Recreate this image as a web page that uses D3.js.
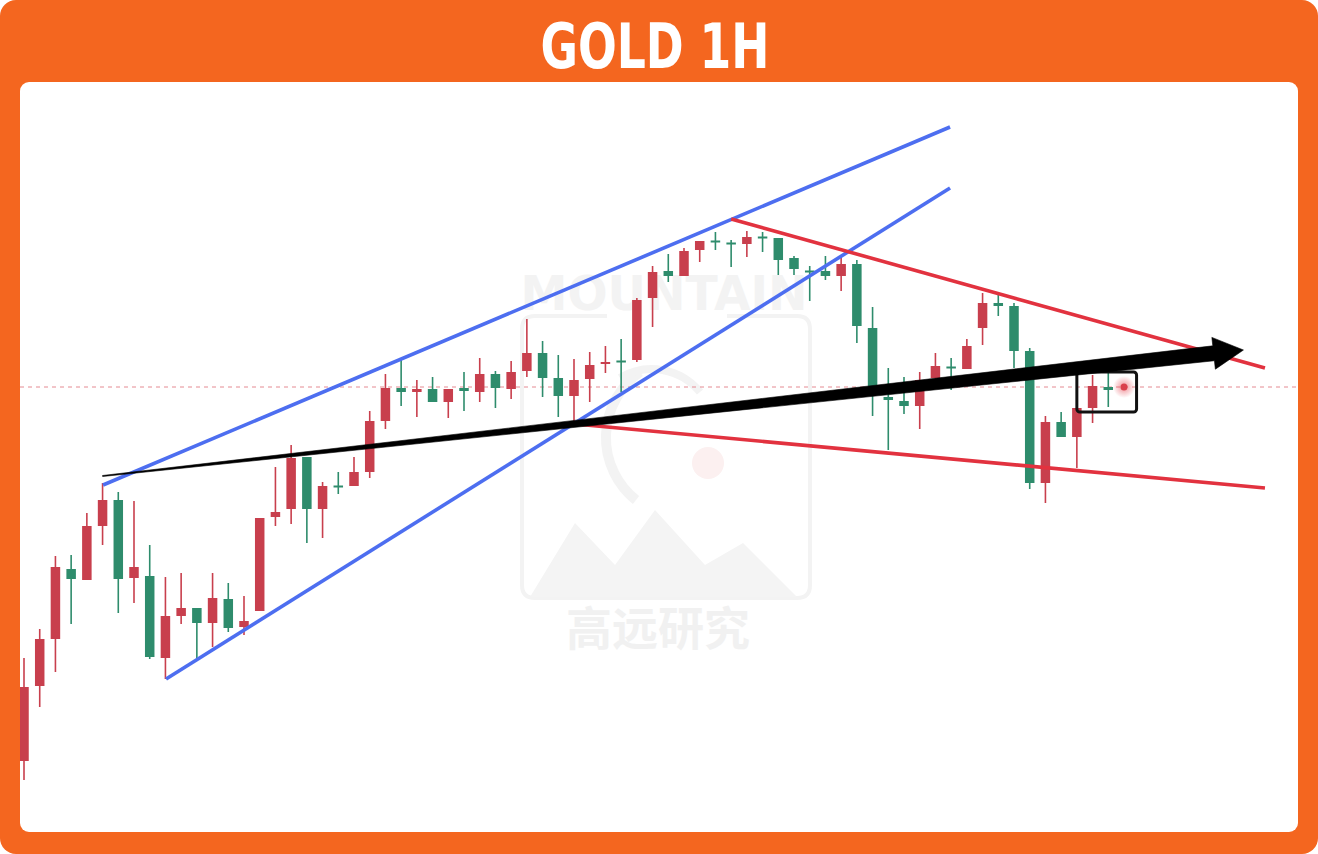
<!DOCTYPE html>
<html><head><meta charset="utf-8">
<script src="https://cdn.jsdelivr.net/npm/d3@7/dist/d3.min.js"></script>
<style>html,body{margin:0;padding:0;background:#fff;}svg{display:block;}</style>
</head><body>
<svg id="c" width="1318" height="854"></svg>
<script>
// ---------- data (1H candles, price) ----------
const title = "GOLD 1H";
const opens  = [3303.9,3311.4,3316.1,3323.1,3322.0,3327.4,3330.0,3322.2,3322.4,3314.2,3318.4,3319.2,3317.7,3320.1,3317.3,3318.9,3328.3,3329.1,3334.3,3329.1,3331.4,3331.4,3332.8,3337.9,3341.2,3340.8,3341.1,3339.8,3341.2,3340.8,3342.6,3341.1,3342.9,3344.7,3342.2,3340.4,3342.1,3343.6,3343.9,3344.0,3350.2,3352.9,3352.4,3355.0,3355.9,3355.7,3355.6,3356.3,3356.2,3354.2,3352.9,3352.9,3352.4,3353.6,3347.2,3340.3,3339.9,3339.4,3342.2,3343.3,3343.1,3347.2,3349.7,3349.4,3344.9,3331.7,3337.8,3336.3,3339.2,3341.3];
const highs  = [3314.2,3317.1,3324.4,3324.5,3328.7,3331.7,3330.8,3329.9,3325.5,3322.3,3322.7,3319.2,3322.7,3321.7,3320.4,3328.2,3333.3,3335.5,3334.3,3331.8,3332.8,3334.3,3338.9,3342.6,3344.0,3342.0,3342.3,3341.1,3342.8,3344.2,3342.9,3343.9,3348.1,3345.9,3344.5,3344.1,3344.8,3345.4,3346.1,3350.2,3353.4,3354.6,3355.2,3355.9,3356.8,3356.0,3356.9,3356.8,3356.2,3354.4,3353.4,3354.4,3354.4,3354.0,3349.3,3343.2,3342.3,3342.8,3344.7,3344.2,3346.1,3350.7,3350.6,3349.7,3345.2,3338.4,3338.8,3339.2,3342.5,3342.7];
const lows   = [3302.0,3309.3,3312.8,3317.6,3322.0,3325.5,3318.7,3319.7,3314.1,3312.1,3317.6,3314.2,3315.3,3316.8,3316.5,3318.9,3327.4,3327.6,3325.7,3326.2,3330.6,3331.4,3332.2,3337.1,3339.4,3338.3,3339.8,3338.2,3338.9,3339.8,3339.2,3340.1,3342.3,3340.3,3338.3,3337.8,3339.8,3342.7,3340.8,3343.8,3347.3,3351.8,3352.4,3353.8,3355.0,3353.3,3354.3,3354.8,3352.5,3352.5,3349.9,3352.0,3350.9,3345.7,3338.4,3335.0,3338.6,3337.1,3342.0,3341.0,3343.1,3345.5,3348.4,3343.2,3331.1,3329.7,3336.3,3333.2,3337.7,3339.3];
const closes = [3311.3,3316.1,3323.3,3322.1,3327.4,3330.0,3322.1,3323.3,3314.3,3318.4,3319.2,3317.7,3320.2,3317.2,3317.9,3328.2,3328.8,3334.2,3329.1,3331.4,3331.3,3332.8,3337.9,3341.2,3340.8,3341.1,3339.8,3341.1,3340.9,3342.6,3341.2,3342.8,3344.7,3342.2,3340.4,3342.0,3343.5,3343.8,3343.8,3350.0,3352.8,3352.4,3354.9,3355.9,3355.8,3355.6,3356.3,3356.2,3354.0,3353.1,3352.8,3352.4,3353.6,3347.4,3341.4,3340.0,3339.4,3342.0,3343.4,3343.2,3345.4,3349.7,3349.4,3344.9,3331.7,3337.8,3336.3,3339.2,3341.4,3341.0];
const lastPrice = 3341.3;      // live price (dashed line + pulsing dot)
const lastIndex = 70;

// trend lines: [index, price] pairs
const channelUpper = [[5.03,3331.5],[58.93,3367.3]];
const channelLower = [[9.04,3312.1],[58.93,3361.2]];
const wedgeUpper   = [[45.0,3358.1],[78.97,3343.2]];
const wedgeLower   = [[35.06,3337.6],[78.97,3331.2]];
const arrowLine    = [[5.0,3332.4],[77.6,3345.0]];
const focusBox     = [[67.0,3342.8],[70.8,3338.8]];

// ---------- drawing ----------
const W = 1318, H = 854;
const svg = d3.select("#c");
const ORANGE = "#F4661F", UP = "#C83F4D", DOWN = "#2E8C6C";
const BLUE = "#4D6EF0", RED = "#E2323F";

svg.append("rect").attr("x",0).attr("y",0).attr("width",W).attr("height",H).attr("rx",16).attr("fill",ORANGE);
svg.append("text").attr("x",655).attr("y",68).attr("text-anchor","middle")
  .attr("font-family","'DejaVu Sans Condensed','DejaVu Sans',sans-serif").attr("font-weight","bold")
  .attr("font-size",62).attr("fill","#fff").attr("textLength",229).attr("lengthAdjust","spacingAndGlyphs")
  .text(title);

const panel = {x:20,y:82,w:1278,h:750};
svg.append("rect").attr("x",panel.x).attr("y",panel.y).attr("width",panel.w).attr("height",panel.h).attr("rx",9).attr("fill","#fff");
const defs = svg.append("defs");
defs.append("clipPath").attr("id","clip").append("rect")
  .attr("x",panel.x).attr("y",panel.y).attr("width",panel.w).attr("height",panel.h).attr("rx",9);
const g = svg.append("g").attr("clip-path","url(#clip)");

const x = d3.scaleLinear().domain([0,70]).range([24,1124]);
const y = d3.scaleLinear().domain([3300,3370]).range([800,100]);

// watermark
const wm = g.append("g");
const WMC = "#f3f3f3";
wm.append("text").attr("x",664).attr("y",310).attr("text-anchor","middle").attr("font-family","'DejaVu Sans',sans-serif")
  .attr("font-weight","bold").attr("font-size",48).attr("fill",WMC).attr("textLength",287).attr("lengthAdjust","spacingAndGlyphs").text("MOUNTAIN");
wm.append("path").attr("d","M607,316 L535,316 Q522,316 522,329 L522,585 Q522,598 535,598 L797,598 Q810,598 810,585 L810,329 Q810,316 797,316 L727,316")
  .attr("fill","none").attr("stroke",WMC).attr("stroke-width",4);
wm.append("path").attr("d","M640,372 A80,80 0 0 0 636,500").attr("fill","none").attr("stroke",WMC).attr("stroke-width",10);
wm.append("path").attr("d","M700,392 A62,62 0 0 0 620,378").attr("fill","none").attr("stroke",WMC).attr("stroke-width",8);
wm.append("circle").attr("cx",708).attr("cy",463).attr("r",16).attr("fill","#fcf0f0");
wm.append("path").attr("d","M530,597 L575,523 L615,565 L655,510 L705,565 L743,543 L797,597 Z").attr("fill","#f4f4f4");
wm.append("text").attr("x",658).attr("y",645).attr("text-anchor","middle").attr("font-family","'Noto Sans CJK SC',sans-serif")
  .attr("font-weight","bold").attr("font-size",46).attr("fill","#f1f1f1").text("高远研究");

// last price dashed line
g.append("line").attr("x1",panel.x).attr("x2",panel.x+panel.w).attr("y1",y(lastPrice)).attr("y2",y(lastPrice))
  .attr("stroke","#E58A92").attr("stroke-width",1).attr("stroke-dasharray","4,4");

// candles
const candles = opens.map((o,i)=>({i,o,h:highs[i],l:lows[i],c:closes[i]}));
const bw = 9.5;
const cg = g.append("g");
candles.forEach(d=>{
  const col = d.c >= d.o ? UP : DOWN;
  cg.append("line").attr("x1",x(d.i)).attr("x2",x(d.i)).attr("y1",y(d.h)).attr("y2",y(d.l)).attr("stroke",col).attr("stroke-width",1.6);
  const top = y(Math.max(d.o,d.c)), bot = y(Math.min(d.o,d.c));
  const hh = Math.max(2, bot-top);
  cg.append("rect").attr("x",x(d.i)-bw/2).attr("y",(top+bot)/2-hh/2).attr("width",bw).attr("height",hh).attr("fill",col);
});

// trend lines
const ln = (pts,col,w)=> g.append("line").attr("x1",x(pts[0][0])).attr("y1",y(pts[0][1])).attr("x2",x(pts[1][0])).attr("y2",y(pts[1][1]))
  .attr("stroke",col).attr("stroke-width",w).attr("stroke-linecap","butt");
ln(channelUpper,BLUE,3.6);
ln(channelLower,BLUE,3.6);
ln(wedgeUpper,RED,3.6);
ln(wedgeLower,RED,3.6);

// focus box
g.append("rect").attr("x",x(focusBox[0][0])).attr("y",y(focusBox[0][1]))
  .attr("width",x(focusBox[1][0])-x(focusBox[0][0])).attr("height",y(focusBox[1][1])-y(focusBox[0][1]))
  .attr("rx",3).attr("fill","none").attr("stroke","#111").attr("stroke-width",3);

// tapered arrow
(function(){
  const x0=x(arrowLine[0][0]), y0=y(arrowLine[0][1]), x1=x(arrowLine[1][0]), y1=y(arrowLine[1][1]);
  const dx=x1-x0, dy=y1-y0, L=Math.hypot(dx,dy), ux=dx/L, uy=dy/L, nx=-uy, ny=ux;
  const headLen=30, headW=16, w0=0.5, w1=7.5;
  const bx=x1-ux*headLen, by=y1-uy*headLen;
  const pts=[
    [x0+nx*w0,y0+ny*w0],[bx+nx*w1,by+ny*w1],[bx+nx*headW,by+ny*headW],[x1,y1],
    [bx-nx*headW,by-ny*headW],[bx-nx*w1,by-ny*w1],[x0-nx*w0,y0-ny*w0]];
  g.append("path").attr("d","M"+pts.map(p=>p.join(",")).join("L")+"Z").attr("fill","#000").attr("stroke","#000").attr("stroke-width",0.6).attr("stroke-linejoin","round");
})();

// live price dot
const rg = defs.append("radialGradient").attr("id","glow");
rg.append("stop").attr("offset","0%").attr("stop-color","#E2323F").attr("stop-opacity",0.55);
rg.append("stop").attr("offset","100%").attr("stop-color","#E2323F").attr("stop-opacity",0);
g.append("circle").attr("cx",x(lastIndex)).attr("cy",y(lastPrice)).attr("r",11).attr("fill","url(#glow)");
g.append("circle").attr("cx",x(lastIndex)).attr("cy",y(lastPrice)).attr("r",3.5).attr("fill","#D9404C");
</script>
</body></html>
